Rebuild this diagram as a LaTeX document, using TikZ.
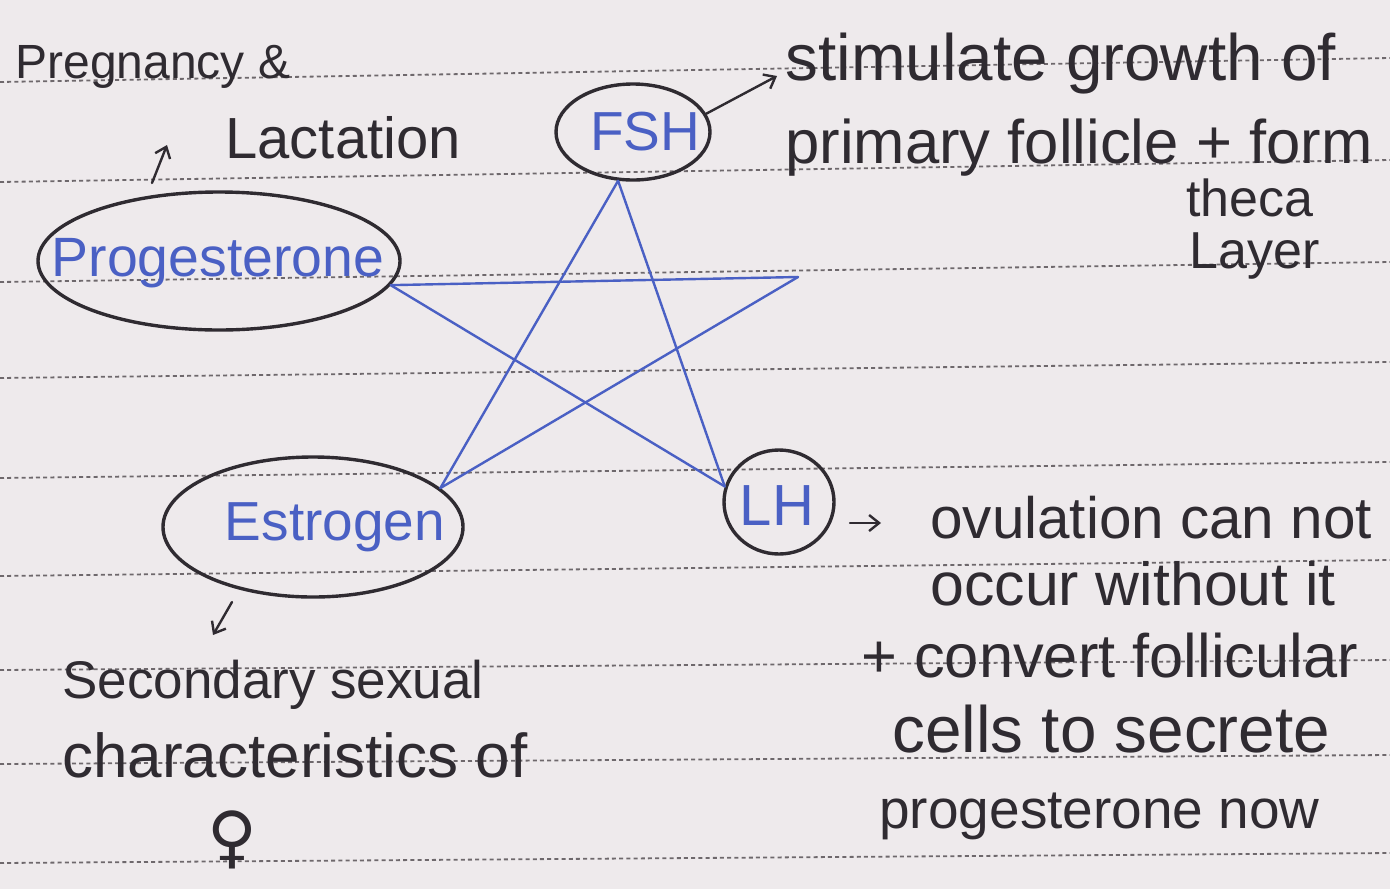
\documentclass[tikz,border=0pt]{standalone}
\usepackage{fontspec}
\setmainfont{Liberation Sans}
\newfontfamily\symfnt{DejaVu Sans}
\usetikzlibrary{shapes.geometric,arrows.meta}
\definecolor{paper}{HTML}{EEEAEC}
\definecolor{ink}{HTML}{2F2B31}
\definecolor{pen}{HTML}{4A60C4}
\definecolor{rulecol}{HTML}{6E686C}
\newcommand{\hsz}[1]{\fontsize{#1}{#1}\selectfont}
\begin{document}
\begin{tikzpicture}[x=0.5pt,y=-0.5pt,
  hw/.style={text=ink, inner sep=0pt, anchor=base west},
  bluetxt/.style={text=pen, inner sep=0pt, anchor=base},
  oval/.style={draw=ink, line width=1.7pt, ellipse, inner sep=0pt},
  starline/.style={draw=pen, line width=1.2pt, line cap=round},
  ruling/.style={draw=rulecol, line width=0.9pt, dash pattern=on 2pt off 1.6pt},
  arr/.style={draw=ink, line width=1.2pt, line cap=round, -{Straight Barb[length=5pt,width=8pt]}}]
\fill[paper] (0,0) rectangle (1390,889);
\useasboundingbox (0,0) rectangle (1390,889);
% page rulings
\foreach \a/\b in {82/58,182/160,282/262,378/362,478/462,576/560,670/660,764/755,863/853}
  \draw[ruling] (0,\a) -- (1390,\b);

% hormone ovals
\node[oval, minimum width=181pt, minimum height=69pt] (prog) at (219,261) {};
\node[bluetxt, font=\hsz{27.7}] (progL) at (218,276) {Progesterone};
\node[oval, minimum width=77pt, minimum height=48pt] (fsh) at (633,132) {};
\node[bluetxt, font=\hsz{27.5}] (fshL) at (645,150) {FSH};
\node[oval, minimum width=150pt, minimum height=70pt] (est) at (313,527) {};
\node[bluetxt, font=\hsz{27.5}] (estL) at (335,540) {Estrogen};
\node[oval, minimum width=55pt, minimum height=52pt] (lh) at (779,502) {};
\node[bluetxt, font=\hsz{29}] (lhL) at (777,525) {LH};

% star
\coordinate (sR) at (798,277);
\draw[starline] (fsh.253) -- (est.17);
\draw[starline] (fsh.253) -- (lh.164);
\draw[starline] (prog.352) -- (sR);
\draw[starline] (prog.352) -- (lh.164);
\draw[starline] (sR) -- (est.17);

% texts
\node[hw, font=\hsz{24}] (pregT) at (15,78) {Pregnancy \&};
\node[hw, font=\hsz{29}] (lactT) at (225,158) {Lactation};
\node[hw, font=\hsz{32.8}] (stimT) at (785,80) {stimulate growth of};
\node[hw, font=\hsz{30.8}] (primT) at (785,163) {primary follicle + form};
\node[hw, font=\hsz{26}] (thecaT) at (1186,216) {theca};
\node[hw, font=\hsz{26}] (layerT) at (1189,268) {Layer};
\node[hw, font=\hsz{29.2}] (ovT) at (930,538) {ovulation can not};
\node[hw, font=\hsz{30.4}] (occT) at (930,605) {occur without it};
\node[hw, font=\hsz{30.7}] (convT) at (861,677) {+ convert follicular};
\node[hw, font=\hsz{32.8}] (cellsT) at (892,752) {cells to secrete};
\node[hw, font=\hsz{27.5}] (progT) at (879,828) {progesterone now};
\node[hw, font=\hsz{26.5}] (secT) at (62,698) {Secondary sexual};
\node[hw, font=\hsz{31}] (charT) at (62,777) {characteristics of};
\node[text=ink, inner sep=0pt, font=\symfnt\hsz{34}] (femT) at (232,840) {♀};

% arrows
\coordinate (pA) at (152,183);
\coordinate (pB) at (167,145);
\draw[arr] (pA) -- (pB);
\draw[arr] (fsh.14) -- ([xshift=-4pt,yshift=2pt]stimT.base west);
\coordinate (lA) at (850,523);
\coordinate (lB) at (881,523);
\draw[arr] (lA) -- (lB);
\coordinate (eA) at (232,602);
\coordinate (eB) at (213,635);
\draw[arr] (eA) -- (eB);
\end{tikzpicture}
\end{document}
